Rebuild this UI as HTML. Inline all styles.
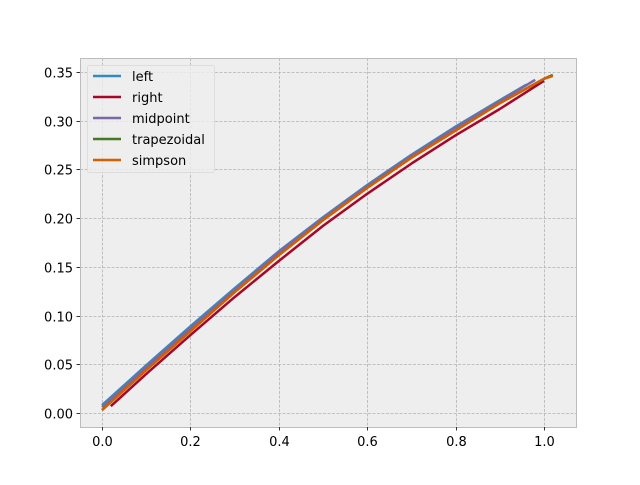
<!DOCTYPE html>
<html><head><meta charset="utf-8"><style>
body{margin:0;background:#fff}
svg text{font-family:"DejaVu Sans","Liberation Sans",sans-serif;font-size:13px;fill:#000}
</style></head><body>
<svg id="chart" width="640" height="480" xmlns="http://www.w3.org/2000/svg">
<rect x="80" y="58" width="496" height="369" fill="#eeeeee"/>
<g id="grid"></g>
<g id="series"></g>
<rect x="80.5" y="58.5" width="496" height="369" fill="none" stroke="#bcbcbc" stroke-width="1"/>
<g id="ticks"></g>
<g id="legend"></g>
</svg>
<script>
const xTicks=[0.0,0.2,0.4,0.6,0.8,1.0];
const xTickLabels=["0.0","0.2","0.4","0.6","0.8","1.0"];
const yTicks=[0,0.05,0.10,0.15,0.20,0.25,0.30,0.35];
const yTickLabels=["0.00","0.05","0.10","0.15","0.20","0.25","0.30","0.35"];
const seriesNames=["left","right","midpoint","trapezoidal","simpson"];
const seriesColors=["#348ABD","#A60628","#7A68A6","#467821","#D55E00"];
const leftX=[0,0.1,0.2,0.3,0.4,0.5,0.6,0.7,0.8,0.9,0.96];
const leftY=[0.008,0.049,0.089,0.128,0.166,0.201,0.234,0.265,0.294,0.321,0.337];
const rightX=[0.02,0.1,0.2,0.3,0.4,0.5,0.6,0.7,0.8,0.9,1.0];
const rightY=[0.007,0.040,0.080,0.119,0.156,0.192,0.225,0.256,0.285,0.312,0.341];
const midX=[0,0.1,0.2,0.3,0.4,0.5,0.6,0.7,0.8,0.9,0.98];
const midY=[0.006,0.047,0.087,0.126,0.165,0.200,0.233,0.264,0.293,0.320,0.342];
const trapX=[0,0.1,0.2,0.3,0.4,0.5,0.6,0.7,0.8,0.9,1.0,1.02];
const trapY=[0.003,0.044,0.084,0.124,0.162,0.198,0.231,0.262,0.290,0.318,0.343,0.347];
const simpX=[0,0.1,0.2,0.3,0.4,0.5,0.6,0.7,0.8,0.9,1.0,1.02];
const simpY=[0.003,0.044,0.084,0.124,0.162,0.198,0.231,0.262,0.290,0.318,0.343,0.346];

const NS="http://www.w3.org/2000/svg";
function sx(v){return 102+v*442;}
function sy(v){return 413-v*974.3;}
function mk(tag,attrs,parent){const e=document.createElementNS(NS,tag);for(const k in attrs)e.setAttribute(k,attrs[k]);parent.appendChild(e);return e;}
const grid=document.getElementById('grid'),ticks=document.getElementById('ticks'),ser=document.getElementById('series'),leg=document.getElementById('legend');
xTicks.forEach((v,i)=>{
 const x=Math.round(sx(v))+0.5;
 const g=mk('line',{x1:x,x2:x,y1:58,y2:427,stroke:'#b2b2b2','stroke-width':0.8,'stroke-dasharray':'3,1.5'},grid);
 
 
 const t=mk('line',{x1:x,x2:x,y1:427,y2:430.5,stroke:'#000','stroke-width':0.8},ticks);
 
 
 const l=mk('text',{x:x,y:446,'text-anchor':'middle'},ticks);l.textContent=xTickLabels[i];
 
 
});
yTicks.forEach((v,i)=>{
 const y=Math.round(sy(v))+0.5;
 const g=mk('line',{x1:80,x2:576,y1:y,y2:y,stroke:'#b2b2b2','stroke-width':0.8,'stroke-dasharray':'3,1.5'},grid);
 
 
 const t=mk('line',{x1:76.5,x2:80,y1:y,y2:y,stroke:'#000','stroke-width':0.8},ticks);
 
 
 const l=mk('text',{x:73,y:y+5,'text-anchor':'end'},ticks);l.textContent=yTickLabels[i];
 
 
});
const xs=[leftX,rightX,midX,trapX,simpX],ys=[leftY,rightY,midY,trapY,simpY];
seriesNames.forEach((n,i)=>{
 const d=xs[i].map((x,j)=>(j?'L':'M')+sx(x).toFixed(1)+','+sy(ys[i][j]).toFixed(1)).join(' ');
 const p=mk('path',{d:d,fill:'none',stroke:seriesColors[i],'stroke-width':2.5,'stroke-linejoin':'round'},ser);
 
 
});
const box=mk('rect',{x:87.5,y:65.5,width:127,height:107,rx:2,fill:'#eeeeee','fill-opacity':0.8,stroke:'#dddddd','stroke-width':1},leg);


seriesNames.forEach((n,i)=>{
 const y=76+i*21;
 const ln=mk('line',{x1:93,x2:121,y1:y,y2:y,stroke:seriesColors[i],'stroke-width':2.5},leg);
 
 
 const t=mk('text',{x:132,y:y+5},leg);t.textContent=n;
 
 
});
</script>
</body></html>
